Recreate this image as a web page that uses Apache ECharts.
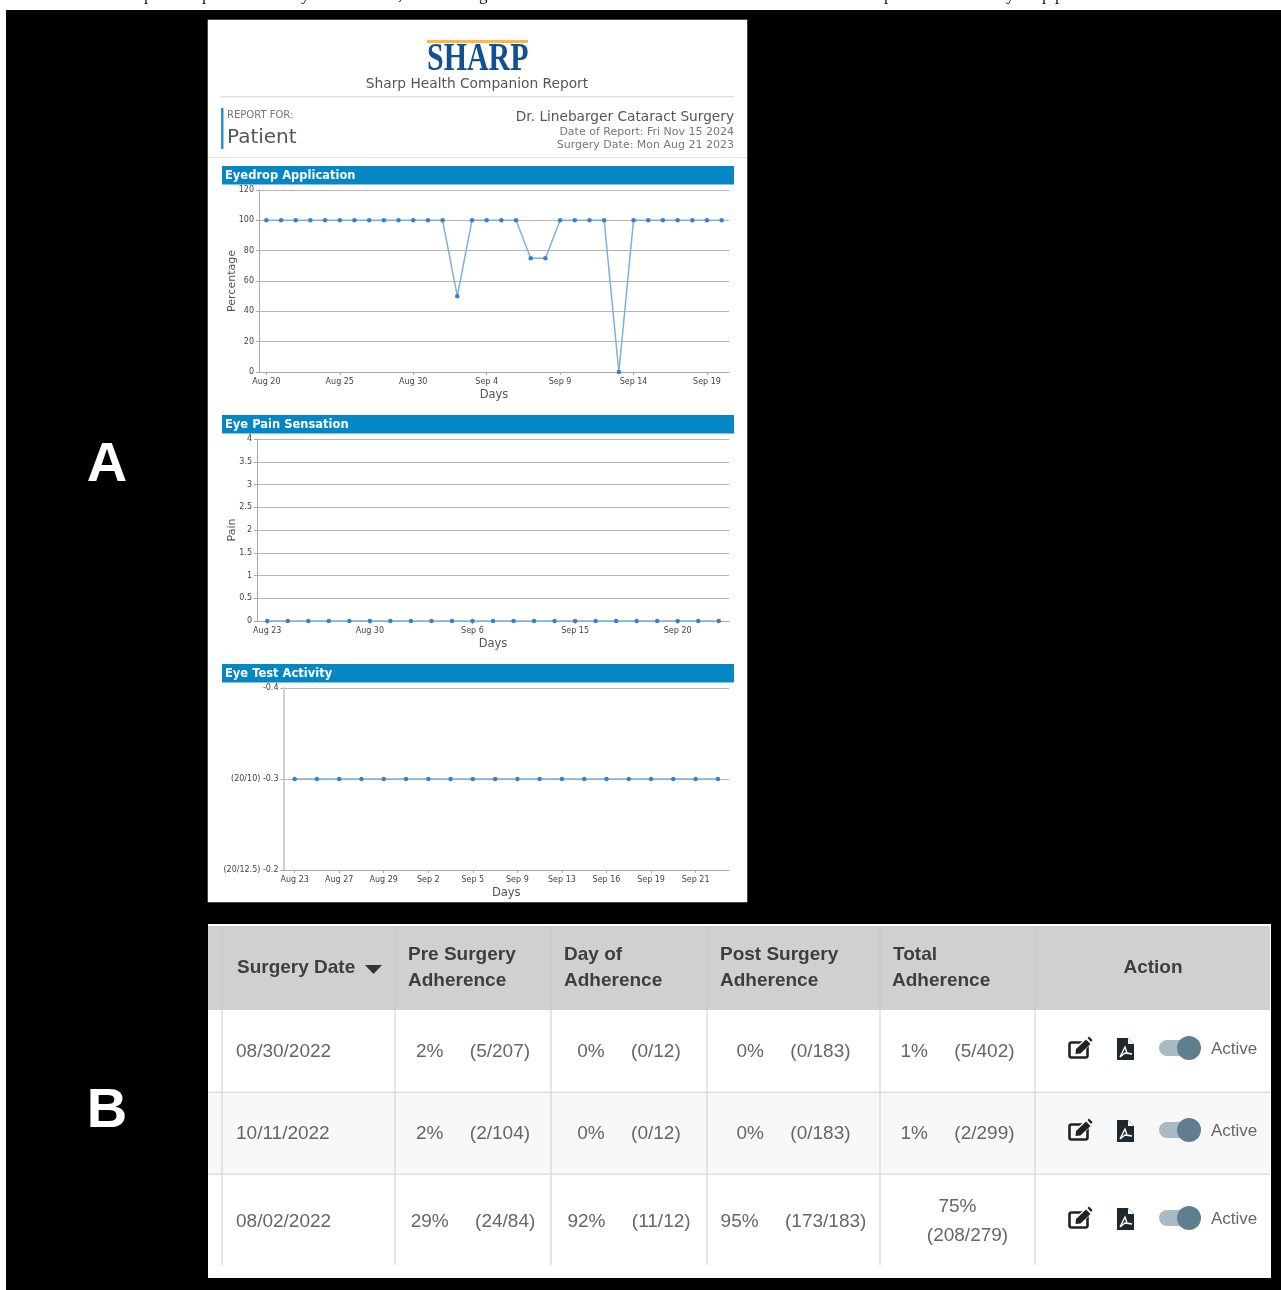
<!DOCTYPE html>
<html>
<head>
<meta charset="utf-8">
<title>Sharp Health Companion Report</title>
<script src="https://cdn.jsdelivr.net/npm/echarts@6/dist/echarts.min.js"></script>
<style>
html, body { margin: 0; padding: 0; background: #fff; }
#main { width: 1281px; height: 1290px; }
</style>
</head>
<body>
<div id="main"></div>
<script>
// eyedrop chart
var eyedropDays = ['Aug 20','Aug 21','Aug 22','Aug 23','Aug 24','Aug 25','Aug 26','Aug 27','Aug 28','Aug 29','Aug 30','Aug 31','Sep 1','Sep 2','Sep 3','Sep 4','Sep 5','Sep 6','Sep 7','Sep 8','Sep 9','Sep 10','Sep 11','Sep 12','Sep 13','Sep 14','Sep 15','Sep 16','Sep 17','Sep 18','Sep 19','Sep 20'];
var eyedropValues = [100,100,100,100,100,100,100,100,100,100,100,100,100,50,100,100,100,100,75,75,100,100,100,100,0,100,100,100,100,100,100,100];

// pain chart
var painDays = ['Aug 23','Aug 24','Aug 25','Aug 27','Aug 29','Aug 30','Aug 31','Sep 1','Sep 2','Sep 4','Sep 6','Sep 8','Sep 9','Sep 11','Sep 13','Sep 15','Sep 16','Sep 17','Sep 18','Sep 19','Sep 20','Sep 21','Sep 22'];
var painValues = [0,0,0,0,0,0,0,0,0,0,0,0,0,0,0,0,0,0,0,0,0,0,0];

// eye test chart
var testDays = ['Aug 23','Aug 25','Aug 27','Aug 28','Aug 29','Sep 1','Sep 2','Sep 4','Sep 5','Sep 7','Sep 9','Sep 11','Sep 13','Sep 15','Sep 16','Sep 18','Sep 19','Sep 20','Sep 21','Sep 22'];
var testValues = [-0.3,-0.3,-0.3,-0.3,-0.3,-0.3,-0.3,-0.3,-0.3,-0.3,-0.3,-0.3,-0.3,-0.3,-0.3,-0.3,-0.3,-0.3,-0.3,-0.3];
var testTickLabels = { '-0.4': '-0.4', '-0.3': '(20/10) -0.3', '-0.2': '(20/12.5) -0.2' };

// adherence table
var surgeryDates = ['08/30/2022', '10/11/2022', '08/02/2022'];
var preSurgery = ['2%     (5/207)', '2%     (2/104)', '29%     (24/84)'];
var dayOf = ['0%     (0/12)', '0%     (0/12)', '92%     (11/12)'];
var postSurgery = ['0%     (0/183)', '0%     (0/183)', '95%     (173/183)'];
var totalAdherence = ['1%     (5/402)', '1%     (2/299)', ''];
var statusText = ['Active', 'Active', 'Active'];

var SANS = '"DejaVu Sans", sans-serif';
var ARIAL = '"Liberation Sans", Arial, sans-serif';
var BLUE_LINE = '#7fb0dc';
var BLUE_DOT = '#3b80c2';

var els = [];

function rect(x, y, w, h, fill, z) {
    els.push({ type: 'rect', z: z === undefined ? -1 : z, silent: true, shape: { x: x, y: y, width: w, height: h }, style: { fill: fill } });
}
function text(str, x, y, size, color, family, opt) {
    opt = opt || {};
    els.push({
        type: 'text', z: 1, silent: true, x: x, y: y + 1,
        scaleX: opt.scaleX || 1, originX: opt.scaleX ? 0 : undefined,
        style: {
            text: str, fill: color,
            font: (opt.bold ? 'bold ' : '') + size + 'px ' + family,
            textAlign: opt.align || 'left', textVerticalAlign: 'middle'
        }
    });
}

// background
rect(6, 10, 1275, 1280, '#000', -3);

// clipped caption above the figure, only the descenders show
var captionBits = [['p',144],['p',202],['y',301],[',',398],['g',479],['p',884],['y',1006],['p',1042],['p',1055]];
for (var c = 0; c < captionBits.length; c++) {
    text(captionBits[c][0], captionBits[c][1], -5, 17, '#111', '"Liberation Serif", serif');
}

// big panel letters
text('A', 107, 465, 56, '#fff', ARIAL, { bold: true, align: 'center' });
text('B', 107, 1111, 56, '#fff', ARIAL, { bold: true, align: 'center' });

// report card
rect(207.5, 19.5, 540, 883, '#8a8a8a', -2.5);
rect(208, 20, 539, 882, '#fff', -2);
rect(427, 40, 101, 3, '#fbb93f');
text('SHARP', 427, 58, 41, '#12508f', '"Liberation Serif", serif', { bold: true, scaleX: 0.73 });
text('Sharp Health Companion Report', 477, 83, 13.75, '#555', SANS, { align: 'center' });
rect(220, 96, 514, 1.5, '#e2e2e2');
rect(221, 108, 2.5, 41, '#2a8fd0');
text('REPORT FOR:', 227, 114, 10, '#777', SANS);
text('Patient', 227, 137, 20, '#555', SANS);
text('Dr. Linebarger Cataract Surgery', 734, 116, 13.7, '#555', SANS, { align: 'right' });
text('Date of Report: Fri Nov 15 2024', 734, 131, 11, '#777', SANS, { align: 'right' });
text('Surgery Date: Mon Aug 21 2023', 734, 144, 11, '#777', SANS, { align: 'right' });
rect(208, 157, 539, 1, '#e2e2e2');

var sections = [['Eyedrop Application', 166], ['Eye Pain Sensation', 415], ['Eye Test Activity', 664]];
for (var s = 0; s < sections.length; s++) {
    rect(222, sections[s][1], 512, 18.5, '#0487c4');
    text(sections[s][0], 225, sections[s][1] + 9.5, 11.5, '#fff', SANS, { bold: true });
}

// table
rect(208, 924, 1063, 354, '#fff', -2);
rect(208, 926, 1062, 84, '#d0d0d0');
rect(208, 1093, 1062, 81, '#f8f8f8');
rect(208, 1091.5, 1062, 1.5, '#dedede', 0);
rect(208, 1173.5, 1062, 1.5, '#dedede', 0);
var colLines = [222, 395, 551, 707, 880, 1035];
for (var l = 0; l < colLines.length; l++) {
    rect(colLines[l] - 0.5, 926, 1, 84, '#c6c6c6', 0);
    rect(colLines[l] - 0.75, 1010, 1.5, 255, '#dcdcdc', 0);
}

var HEAD = '#3e3e3e', BODY = '#666';
text('Surgery Date', 237, 967, 19, HEAD, ARIAL, { bold: true });
els.push({ type: 'polygon', z: 1, silent: true, shape: { points: [[365, 965], [382, 965], [373.5, 974]] }, style: { fill: '#333' } });
text('Pre Surgery', 408, 954, 19, HEAD, ARIAL, { bold: true });
text('Adherence', 408, 980, 19, HEAD, ARIAL, { bold: true });
text('Day of', 564, 954, 19, HEAD, ARIAL, { bold: true });
text('Adherence', 564, 980, 19, HEAD, ARIAL, { bold: true });
text('Post Surgery', 720, 954, 19, HEAD, ARIAL, { bold: true });
text('Adherence', 720, 980, 19, HEAD, ARIAL, { bold: true });
text('Total', 893, 954, 19, HEAD, ARIAL, { bold: true });
text('Adherence', 892, 980, 19, HEAD, ARIAL, { bold: true });
text('Action', 1153, 967, 19, HEAD, ARIAL, { bold: true, align: 'center' });

function editIcon(x, y) {
    els.push({
        type: 'group', x: x, y: y, z: 1, silent: true,
        children: [
            { type: 'rect', z: 1, shape: { x: 1.5, y: 5.5, width: 18, height: 15, r: 2 }, style: { fill: 'none', stroke: '#222', lineWidth: 2.6 } },
            { type: 'polygon', z: 2, shape: { points: [[7, 11], [19, 0], [25, 5], [13, 17], [6, 18]] }, style: { fill: '#fff' } },
            { type: 'polygon', z: 3, shape: { points: [[8, 12], [18, 2.5], [22.5, 7], [12.5, 16.5], [7.5, 17]] }, style: { fill: '#222' } },
            { type: 'polygon', z: 3, shape: { points: [[19.5, 1], [21, -0.5], [24.5, 3], [23, 5]] }, style: { fill: '#222' } }
        ]
    });
}
function pdfIcon(x, y) {
    els.push({
        type: 'group', x: x, y: y, z: 1, silent: true,
        children: [
            { type: 'polygon', z: 1, shape: { points: [[0, 0], [11, 0], [17, 6], [17, 22], [0, 22]] }, style: { fill: '#1e2830' } },
            { type: 'polygon', z: 2, shape: { points: [[11, 0], [17, 6], [11, 6]] }, style: { fill: '#fff' } },
            { type: 'polyline', z: 2, shape: { points: [[3, 19], [8, 9], [10, 15], [15, 16], [8, 15], [3, 19]] }, style: { fill: 'none', stroke: '#fff', lineWidth: 1.4 } }
        ]
    });
}
function toggle(y) {
    rect(1159, y - 8, 41, 16, '#a9bac4', 0);
    els[els.length - 1].shape.r = 8;
    els.push({ type: 'circle', z: 1, silent: true, shape: { cx: 1189, cy: y, r: 12 }, style: { fill: '#5f7f8f' } });
}

var rowCenters = [1051, 1133, 1221];
var cellCenters = [473, 629, 793.5, 957.5];
var cellColumns = [preSurgery, dayOf, postSurgery, totalAdherence];
for (var r = 0; r < surgeryDates.length; r++) {
    var cy = rowCenters[r];
    text(surgeryDates[r], 236, cy, 19, BODY, ARIAL);
    for (var k = 0; k < cellColumns.length; k++) {
        if (cellColumns[k][r]) {
            text(cellColumns[k][r], cellCenters[k], cy, 19, BODY, ARIAL, { align: 'center' });
        }
    }
    editIcon(1068, cy - 14);
    pdfIcon(1117, cy - 13);
    toggle(cy - 3);
    text(statusText[r], 1211, cy - 3, 17, BODY, ARIAL);
}
// this one wraps in the original
text('75%', 957.5, 1206, 19, BODY, ARIAL, { align: 'center' });
text('(208/279)', 967.5, 1235, 19, BODY, ARIAL, { align: 'center' });

function xAxisFor(gridIdx, days, every, gap) {
    return {
        type: 'category', gridIndex: gridIdx, data: days, boundaryGap: true,
        name: 'Days', nameLocation: 'middle', nameGap: gap,
        nameTextStyle: { fontFamily: SANS, fontSize: 11.5, color: '#555' },
        axisLine: { lineStyle: { color: '#aaa', width: 1 } },
        axisTick: { show: true, alignWithLabel: true, length: 3, interval: every, lineStyle: { color: '#aaa' } },
        axisLabel: { interval: every, fontFamily: SANS, fontSize: 8, color: '#444', margin: 6, hideOverlap: false },
        splitLine: { show: false }
    };
}
function yAxisFor(gridIdx, name, min, max, step, gap) {
    return {
        type: 'value', gridIndex: gridIdx, min: min, max: max, interval: step,
        name: name, nameLocation: 'middle', nameGap: gap, nameRotate: 90, nameMoveOverlap: false,
        nameTextStyle: { fontFamily: SANS, fontSize: 11, color: '#555' },
        axisLine: { show: true, lineStyle: { color: '#aaa', width: 1 } },
        axisTick: { show: true, length: 3, lineStyle: { color: '#aaa' } },
        axisLabel: { fontFamily: SANS, fontSize: 8, color: '#444', margin: 5 },
        splitLine: { show: true, lineStyle: { color: '#b5b5b5', width: 1 } }
    };
}
function lineFor(idx, values) {
    return {
        type: 'line', xAxisIndex: idx, yAxisIndex: idx, data: values,
        symbol: 'circle', symbolSize: 4.5, showSymbol: true, animation: false, clip: false,
        lineStyle: { color: BLUE_LINE, width: 1.5 },
        itemStyle: { color: BLUE_DOT }
    };
}

var yTest = yAxisFor(2, '', -0.4, -0.2, 0.1, 0);
yTest.inverse = true;
yTest.axisLine.lineStyle = { color: '#cfcfcf', width: 2 };
yTest.axisLabel.formatter = function (v) { return testTickLabels[v.toFixed(1)]; };

var option = {
    backgroundColor: '#fff',
    animation: false,
    graphic: { elements: els },
    grid: [
        { left: 259, width: 470, top: 190, height: 182 },
        { left: 257, width: 472, top: 439, height: 182 },
        { left: 283.5, width: 445.5, top: 688, height: 182 }
    ],
    xAxis: [
        xAxisFor(0, eyedropDays, 4, 17),
        xAxisFor(1, painDays, 4, 17),
        xAxisFor(2, testDays, 1, 17)
    ],
    yAxis: [
        yAxisFor(0, 'Percentage', 0, 120, 20, 21),
        yAxisFor(1, 'Pain', 0, 4, 0.5, 19),
        yTest
    ],
    series: [
        lineFor(0, eyedropValues),
        lineFor(1, painValues),
        lineFor(2, testValues)
    ]
};

var chart = echarts.init(document.getElementById('main'), null, { renderer: 'canvas' });
chart.setOption(option);
</script>
</body>
</html>
